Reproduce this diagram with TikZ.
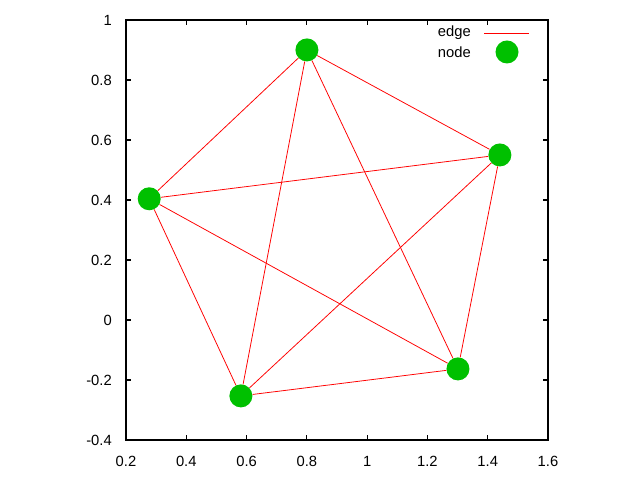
\documentclass[tikz,border=0pt]{standalone}
\usepackage{fontspec}
\setmainfont{Liberation Sans}
\definecolor{gpgreen}{RGB}{0,192,0}
\definecolor{gpred}{RGB}{255,0,0}
\begin{document}
\begin{tikzpicture}[x=0.025cm,y=0.025cm,
  dot/.style={circle,fill=gpgreen,inner sep=0pt,minimum size=0.575cm},
  edge/.style={draw=gpred,line width=0.55pt},
  lbl/.style={font=\fontsize{10.5}{12}\selectfont,inner sep=0pt},
  frame/.style={draw=black,line width=0.8pt}]
\useasboundingbox (0,0) rectangle (640,480);
% axes box: pixel x 126..548, y(from bottom) 40..460
\draw[frame] (126,40) rectangle (548,460);
% x ticks
\foreach \v/\t in {0.2/0.2,0.4/0.4,0.6/0.6,0.8/0.8,1.0/1,1.2/1.2,1.4/1.4,1.6/1.6}{
  \pgfmathsetmacro\px{126+(\v-0.2)*301.43}
  \draw[frame] (\px,40) -- ++(0,5);
  \draw[frame] (\px,460) -- ++(0,-5);
  \node[lbl,anchor=base] at (\px,13) {\t};
}
% y ticks
\foreach \v/\t in {-0.4/-0.4,-0.2/-0.2,0.0/0,0.2/0.2,0.4/0.4,0.6/0.6,0.8/0.8,1.0/1}{
  \pgfmathsetmacro\py{40+(\v+0.4)*300}
  \draw[frame] (126,\py) -- ++(5,0);
  \draw[frame] (548,\py) -- ++(-5,0);
  \node[lbl,anchor=east] at (112,\py) {\t};
}
% data
\begin{scope}[shift={(65.71,160)},x=7.5357cm,y=7.5cm]
  \node[dot] (a) at (0.80,0.90) {};
  \node[dot] (b) at (1.44,0.55) {};
  \node[dot] (c) at (0.277,0.404) {};
  \node[dot] (d) at (0.581,-0.253) {};
  \node[dot] (e) at (1.301,-0.163) {};
\end{scope}
\begin{scope}[on background layer/.style={}]
\foreach \p/\q in {a/b,a/c,a/d,a/e,b/c,b/d,b/e,c/d,c/e,d/e}{
  \draw[edge] (\p) -- (\q);
}
\end{scope}
% legend
\node[lbl,anchor=east] (edgetxt) at (471,447) {edge};
\node[lbl,anchor=east] (nodetxt) at (471,428) {node};
\coordinate (l1) at (484,447);
\coordinate (l2) at (529,447);
\draw[edge] (l1) -- (l2);
\node[dot] (legdot) at (507,428) {};
\end{tikzpicture}
\end{document}
